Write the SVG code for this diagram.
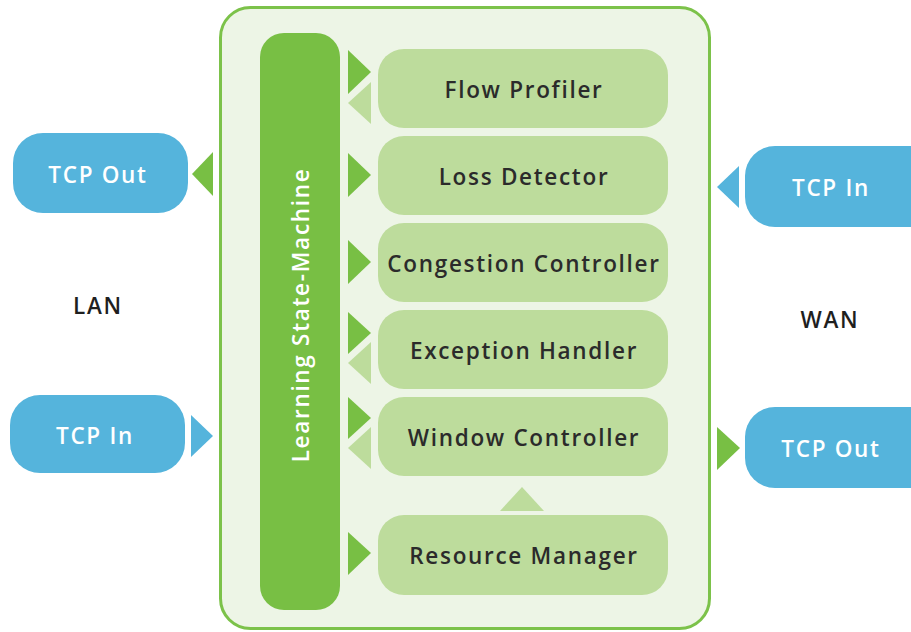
<svg xmlns="http://www.w3.org/2000/svg" width="911" height="632" viewBox="0 0 911 632">
<style>
.mod{fill:#bddc9c}
.lbl{font-family:"Open Sans","Liberation Sans",sans-serif;font-size:22.5px;font-weight:600;letter-spacing:1.7px;fill:#2b2b2b;text-anchor:middle;dominant-baseline:central}
.tcp{fill:#55b4dc}
.tl{font-family:"Open Sans","Liberation Sans",sans-serif;font-size:22.5px;font-weight:600;letter-spacing:1.7px;fill:#ffffff;text-anchor:middle;dominant-baseline:central}
.dk{fill:#78bf44}
.lt{fill:#bddc9c}
.bl{fill:#55b4dc}
.side{font-family:"Open Sans","Liberation Sans",sans-serif;font-size:22.5px;font-weight:600;letter-spacing:1.7px;fill:#1f1f1f;text-anchor:middle;dominant-baseline:central}
</style>
<rect width="911" height="632" fill="#ffffff"/>
<g id="container">
<rect x="220.5" y="7.5" width="489" height="621" rx="30" fill="#edf5e6" stroke="#7cc24a" stroke-width="3"/>
</g>
<g id="state-machine">
<rect x="260" y="33" width="80" height="577" rx="24" fill="#78bf44"/>
<text class="tl" transform="translate(300,315) rotate(-90)">Learning State-Machine</text>
</g>
<g id="flow-profiler"><rect class="mod" x="378" y="49" width="290" height="79" rx="26"/><text class="lbl" x="524" y="89">Flow Profiler</text></g>
<g id="loss-detector"><rect class="mod" x="378" y="136" width="290" height="79" rx="26"/><text class="lbl" x="524" y="176">Loss Detector</text></g>
<g id="congestion-controller"><rect class="mod" x="378" y="223" width="290" height="79" rx="26"/><text class="lbl" x="524" y="263">Congestion Controller</text></g>
<g id="exception-handler"><rect class="mod" x="378" y="310" width="290" height="79" rx="26"/><text class="lbl" x="524" y="350">Exception Handler</text></g>
<g id="window-controller"><rect class="mod" x="378" y="397" width="290" height="79" rx="26"/><text class="lbl" x="524" y="437">Window Controller</text></g>
<g id="resource-manager"><rect class="mod" x="378" y="515" width="290" height="80" rx="26"/><text class="lbl" x="524" y="555">Resource Manager</text></g>
<g id="lan-tcp-out"><rect class="tcp" x="13" y="133" width="175" height="80" rx="30"/><text class="tl" x="98" y="174">TCP Out</text></g>
<g id="lan-tcp-in"><rect class="tcp" x="10" y="395" width="175" height="78" rx="30"/><text class="tl" x="95" y="435">TCP In</text></g>
<g id="wan-tcp-in"><rect class="tcp" x="745" y="146" width="200" height="81" rx="30"/><text class="tl" x="831" y="187">TCP In</text></g>
<g id="wan-tcp-out"><rect class="tcp" x="745" y="407" width="200" height="81" rx="30"/><text class="tl" x="831" y="448">TCP Out</text></g>
<g id="labels">
<text class="side" x="98" y="305">LAN</text>
<text class="side" x="830" y="319">WAN</text>
</g>
<g id="connectors">
<polygon class="dk" points="348,50 371,72 348,94"/>
<polygon class="lt" points="371,82 348,103 371,124"/>
<polygon class="dk" points="348,153 371,175 348,197"/>
<polygon class="dk" points="348,240 371,262 348,284"/>
<polygon class="dk" points="348,312 371,333 348,354"/>
<polygon class="lt" points="371,342 348,363 371,384"/>
<polygon class="dk" points="348,397 371,418 348,439"/>
<polygon class="lt" points="371,427 348,448 371,469"/>
<polygon class="dk" points="348,532 371,553 348,575"/>
<polygon class="lt" points="500,511 522,487 544,511"/>
<polygon class="dk" points="213,152 192,174 213,196"/>
<polygon class="bl" points="191,415 213,436 191,457"/>
<polygon class="bl" points="739,166 717,187 739,208"/>
<polygon class="dk" points="717,427 740,448 717,470"/>
</g>
</svg>
